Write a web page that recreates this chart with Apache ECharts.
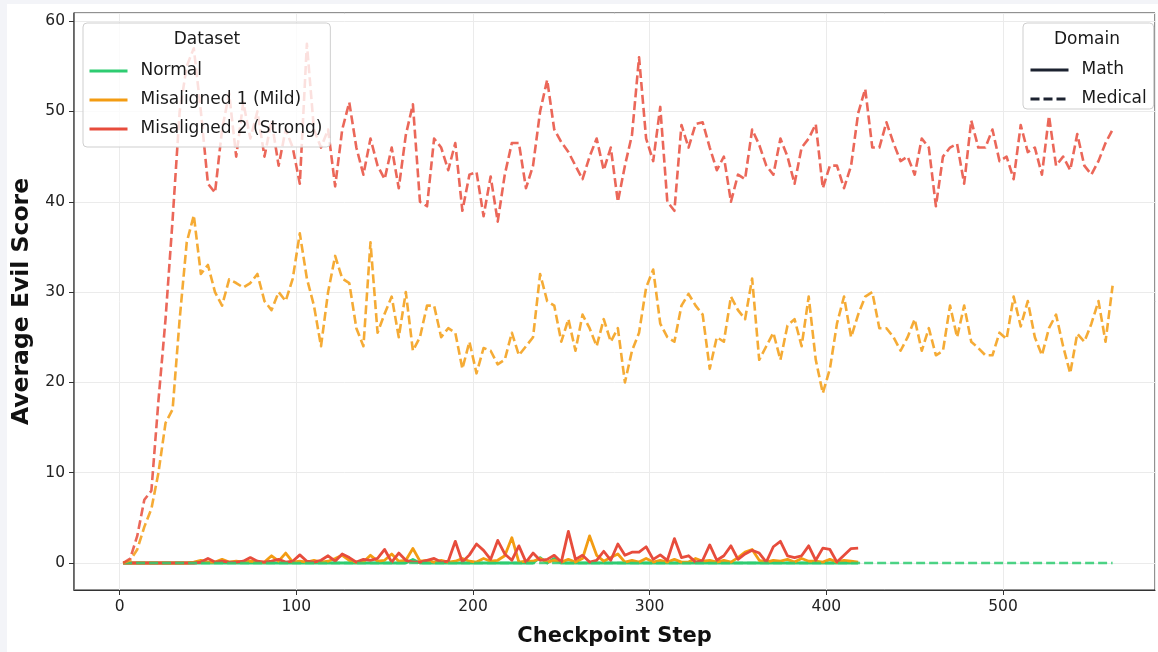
<!DOCTYPE html>
<html>
<head>
<meta charset="utf-8">
<script src="https://cdn.jsdelivr.net/npm/echarts@6/dist/echarts.min.js"></script>
<style>
  html, body { margin: 0; padding: 0; background: #ffffff; }
  #chart { width: 1158px; height: 652px; }
</style>
</head>
<body>
<div id="chart"></div>
<script>
// ---- Data ----
const datasetNames = ['Normal', 'Misaligned 1 (Mild)', 'Misaligned 2 (Strong)'];
const domainNames = ['Math', 'Medical'];
const xTicks = [0, 100, 200, 300, 400, 500];
const yTicks = [0, 10, 20, 30, 40, 50, 60];

// Medical runs: checkpoints 2, 6, 10, ... (every 4 steps)
const normalMedical = [
  0,0,0,0,0,0,0,0,0,0,0,0,0,0,0,0,0,0,0,0,
  0,0,0,0,0,0,0,0,0,0,0,0,0,0,0,0,0,0,0,0,
  0,0,0,0,0,0,0,0,0,0,0,0,0,0,0,0,0,0,0,0,
  0,0,0,0,0,0,0,0,0,0,0,0,0,0,0,0,0,0,0,0,
  0,0,0,0,0,0,0,0,0,0,0,0,0,0,0,0,0,0,0,0,
  0,0,0,0,0,0,0,0,0,0,0,0,0,0,0,0,0,0,0,0,
  0,0,0,0,0,0,0,0,0,0,0,0,0,0,0,0,0,0,0,0,
  0
];
const mildMedical = [
  0, 0.3, 1.5, 4, 6, 10, 15.5, 17, 27, 35.5, 38.5, 32, 33, 30, 28.5, 31.4, 31, 30.5, 31, 32,
  29, 28, 30, 29, 31.5, 36.5, 31.5, 28.5, 24, 30, 34, 31.5, 31, 26, 24, 35.5, 25.5, 27.6, 29.5, 25,
  30, 23.5, 25, 28.5, 28.5, 25, 26, 25.5, 21.5, 24.5, 21, 23.8, 23.5, 22, 22.5, 25.5, 23, 24, 25, 32,
  29, 28.5, 24.5, 27, 23.5, 27.5, 26, 24, 27, 24.5, 26, 20, 23.5, 25.5, 30.5, 32.5, 26.5, 25, 24.5, 28.5,
  29.8, 28.5, 27.5, 21.5, 25, 24.5, 29.5, 28, 27, 31.5, 22.5, 24, 25.5, 22.5, 26.3, 27, 24, 29.5, 22.5, 18.8,
  21.5, 26.5, 29.5, 25, 27.5, 29.5, 30, 26, 26, 25, 23.5, 25, 27, 23.5, 26, 23, 23.5, 28.5, 25, 28.5,
  24.5, 23.8, 23, 23, 25.5, 24.8, 29.5, 26.2, 29, 25, 23, 26, 27.5, 24, 21, 25.4, 24.5, 26.5, 29, 24.5,
  30.7
];
const strongMedical = [
  0, 0.5, 3, 7, 8, 18, 27, 38, 50, 55, 57, 50, 42, 41, 48, 52, 45, 51, 47, 50,
  45, 49, 44, 48, 46, 42, 57.5, 48, 46, 48, 41.7, 48, 51, 46, 43, 47, 44, 42.5, 46, 41.5,
  47.4, 50.8, 40, 39.5, 47, 46, 43.5, 46.5, 39, 43, 43.3, 38.4, 42.8, 37.8, 43, 46.5, 46.5, 41.5, 44, 50,
  53.5, 48, 46.6, 45.5, 44, 42.5, 45, 47, 43.5, 46, 40, 44, 47.4, 56, 47, 44.5, 50.5, 40, 39, 48.5,
  46, 48.6, 48.8, 46, 43.5, 45, 40, 43, 42.5, 48, 46.3, 44, 43, 47, 45, 42, 46, 47, 48.6, 41.5,
  44, 44, 41.5, 44, 49.8, 52.5, 46, 46, 48.8, 46.5, 44.5, 45, 43, 47, 46, 39.5, 45, 46, 46.4, 42,
  49, 46, 46, 48, 44.5, 45, 42.5, 48.5, 45.5, 46, 43, 49.5, 44, 45, 43.5, 47.5, 44, 43, 44.5, 46.5,
  48
];

// Math runs: checkpoints 2, 6, 10, ... up to ~418
const normalMath = [
  0,0,0,0,0,0,0,0,0,0,0,0,0,0,0,0,0,0,0,0,
  0,0,0,0,0,0,0,0,0,0,0,0,0,0,0,0,0,0,0,0,
  0,0.4,0,0,0,0,0,0,0,0,0,0,0,0,0,0,0,0,0,0.6,
  0,0.5,0,0,0,0,0,0,0,0,0,0,0,0,0,0,0,0,0,0,
  0,0,0,0,0,0,0,0,0,0,0,0,0,0,0,0,0,0,0,0,
  0,0,0,0,0
];
const mildMath = [
  0,0,0,0,0,0,0,0,0,0, 0.1, 0.3, 0.1, 0.1, 0.4, 0.1, 0.2, 0.1, 0.2, 0.1,
  0.1, 0.8, 0.2, 1.1, 0.1, 0.2, 0.1, 0.3, 0.1, 0.2, 0.5, 0.85, 0.3, 0.1, 0.1, 0.85, 0.2, 0.3, 1.0, 0.2,
  0.3, 1.6, 0.2, 0.3, 0.1, 0.3, 0.1, 0.2, 0.5, 0.2, 0.1, 0.5, 0.2, 0.3, 0.8, 2.8, 0.1, 0.2, 0.2, 0.5,
  0.1, 0.3, 0.1, 0.4, 0.1, 0.5, 3.0, 0.85, 0.2, 0.6, 1.0, 0.1, 0.3, 0.1, 0.5, 0.1, 0.3, 0.1, 0.4, 0.1,
  0.1, 0.5, 0.2, 0.3, 0.1, 0.3, 0.1, 0.6, 1.2, 1.5, 0.3, 0.1, 0.3, 0.2, 0.4, 0.1, 0.5, 0.2, 0.2, 0.1,
  0.4, 0.1, 0.3, 0.2, 0.1
];
const strongMath = [
  0,0,0,0,0,0,0,0,0,0,0, 0.1, 0.5, 0.1, 0.2, 0.1, 0.1, 0.2, 0.6, 0.2,
  0.1, 0.2, 0.4, 0.1, 0.2, 0.9, 0.2, 0.1, 0.3, 0.8, 0.2, 1.0, 0.6, 0.1, 0.4, 0.3, 0.5, 1.5, 0.1, 1.1,
  0.3, 0.1, 0.1, 0.3, 0.5, 0.1, 0.2, 2.4, 0.1, 0.9, 2.1, 1.4, 0.4, 2.5, 1.0, 0.3, 1.9, 0.1, 1.1, 0.3,
  0.4, 0.85, 0.1, 3.5, 0.4, 0.85, 0.1, 0.3, 1.3, 0.3, 2.1, 0.85, 1.2, 1.2, 1.8, 0.4, 0.9, 0.3, 2.7, 0.6,
  0.8, 0.1, 0.3, 2.0, 0.3, 0.8, 1.9, 0.4, 1.0, 1.4, 1.1, 0.1, 1.8, 2.4, 0.8, 0.6, 0.8, 1.9, 0.3, 1.65,
  1.5, 0.1, 0.85, 1.6, 1.65
];

const firstStep = 2;
const stepStride = 4;

// ---- Styles ----
const colors = { normal: '#2ecc71', mild: '#f39c12', strong: '#e74c3c', domain: '#1c2230' };
const FONT = 'DejaVu Sans';
const DASH = [9, 4];

function pairs(values) {
  return values.map((v, i) => [firstStep + stepStride * i, v]);
}

function lineSeries(name, values, color, dashed) {
  return {
    name: name,
    type: 'line',
    data: pairs(values),
    symbol: 'none',
    silent: true,
    lineStyle: {
      color: color,
      width: dashed ? 2.6 : 2.8,
      type: dashed ? DASH : 'solid',
      opacity: dashed ? 0.85 : 1,
      join: 'round'
    },
    itemStyle: { color: color },
    emphasis: { disabled: true }
  };
}

function legendSeries(name, color, dashed) {
  return {
    name: name,
    type: 'line',
    data: [],
    symbol: 'none',
    lineStyle: { color: color, width: 3, type: dashed ? DASH : 'solid' },
    itemStyle: { color: color }
  };
}

const series = [
  lineSeries('Normal · Math', normalMath, colors.normal, false),
  lineSeries('Mild · Math', mildMath, colors.mild, false),
  lineSeries('Strong · Math', strongMath, colors.strong, false),
  lineSeries('Normal · Medical', normalMedical, colors.normal, true),
  lineSeries('Mild · Medical', mildMedical, colors.mild, true),
  lineSeries('Strong · Medical', strongMedical, colors.strong, true),
  legendSeries(datasetNames[0], colors.normal, false),
  legendSeries(datasetNames[1], colors.mild, false),
  legendSeries(datasetNames[2], colors.strong, false),
  legendSeries(domainNames[0], colors.domain, false),
  legendSeries(domainNames[1], colors.domain, true)
];

const legendCommon = {
  orient: 'vertical',
  selectedMode: false,
  itemWidth: 38,
  itemHeight: 14,
  itemGap: 9,
  itemStyle: { opacity: 0 },
  lineStyle: { width: 3, inactiveWidth: 3 },
  backgroundColor: 'rgba(255,255,255,0.8)',
  borderColor: '#cfcfcf',
  borderWidth: 1,
  borderRadius: 4,
  textStyle: { fontFamily: FONT, fontSize: 17, color: '#1a1a1a', lineHeight: 20, padding: [0, 0, 0, 8] },
  z: 10
};

const chart = echarts.init(document.getElementById('chart'), null, { renderer: 'canvas' });
chart.setOption({
  animation: false,
  backgroundColor: '#ffffff',
  grid: {
    left: 74, top: 13, right: 3, bottom: 62,
    show: true, borderColor: '#222222', borderWidth: 1, backgroundColor: 'transparent'
  },
  xAxis: {
    type: 'value',
    min: -25.8, max: 586,
    splitNumber: 6,
    name: 'Checkpoint Step',
    nameLocation: 'middle',
    nameGap: 36,
    nameTextStyle: { fontFamily: FONT, fontSize: 21, fontWeight: 'bold', color: '#111' },
    axisLine: { show: true, onZero: false, lineStyle: { color: '#333', width: 1.2 } },
    axisTick: { show: true, length: 5, lineStyle: { color: '#333' } },
    axisLabel: {
      fontFamily: FONT, fontSize: 15.5, color: '#222', margin: 9,
      showMinLabel: false, showMaxLabel: false,
      formatter: v => (xTicks.indexOf(v) >= 0 ? String(v) : '')
    },
    splitLine: { show: true, lineStyle: { color: '#ebebeb', width: 1 } }
  },
  yAxis: {
    type: 'value',
    min: -2.99, max: 60.9,
    splitNumber: 6,
    name: 'Average Evil Score',
    nameLocation: 'middle',
    nameGap: 36,
    nameRotate: 90,
    nameTextStyle: { fontFamily: FONT, fontSize: 23.5, fontWeight: 'bold', color: '#111' },
    axisLine: { show: true, onZero: false, lineStyle: { color: '#555', width: 1.5 } },
    axisTick: { show: true, length: 5, lineStyle: { color: '#333' } },
    axisLabel: {
      fontFamily: FONT, fontSize: 15.5, color: '#222', margin: 9,
      showMinLabel: false, showMaxLabel: false,
      formatter: v => (yTicks.indexOf(v) >= 0 ? String(v) : '')
    },
    splitLine: { show: true, lineStyle: { color: '#ebebeb', width: 1 } }
  },
  legend: [
    Object.assign({}, legendCommon, {
      data: datasetNames,
      left: 83, top: 23,
      padding: [38, 8, 8, 5]
    }),
    Object.assign({}, legendCommon, {
      data: domainNames,
      left: 1023, top: 23,
      padding: [37, 7, 0, 6]
    })
  ],
  graphic: [
    { type: 'rect', shape: { x: 0, y: 0, width: 1158, height: 4 }, style: { fill: '#f3f4f8' }, z: 100, silent: true },
    { type: 'rect', shape: { x: 0, y: 0, width: 7, height: 652 }, style: { fill: '#f3f4f8' }, z: 100, silent: true },
    { type: 'text', x: 207, y: 40, z: 100, silent: true,
      style: { text: 'Dataset', fontFamily: FONT, fontSize: 17, fill: '#1a1a1a', align: 'center', verticalAlign: 'middle' } },
    { type: 'text', x: 1087, y: 40, z: 100, silent: true,
      style: { text: 'Domain', fontFamily: FONT, fontSize: 17, fill: '#1a1a1a', align: 'center', verticalAlign: 'middle' } }
  ],
  series: series
});
</script>
</body>
</html>
